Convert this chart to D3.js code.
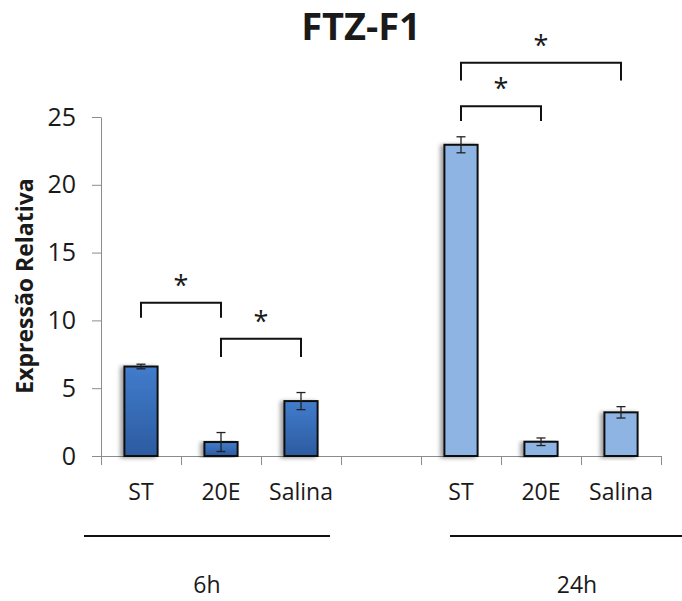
<!DOCTYPE html>
<html>
<head>
<meta charset="utf-8">
<script src="https://cdn.jsdelivr.net/npm/d3@7"></script>
<style>
    body { margin: 0; background: #fff; }
    text { font-family: "Open Sans", sans-serif; fill: #1a1a1a; }
</style>
</head>
<body>
<script>
// FTZ-F1 relative expression, bar chart with error bars

// data
const groups = ["6h", "24h"];
const treatments = ["ST", "20E", "Salina"];
const values6h = [6.6, 1.03, 4.05];
const errors6h = [0.17, 0.7, 0.63];
const values24h = [22.95, 1.05, 3.22];
const errors24h = [0.59, 0.28, 0.42];
const yTicks = [0, 5, 10, 15, 20, 25];

// significance brackets: group, from, to, top value, leg end value
const bracketGroups = ["6h", "6h", "24h", "24h"];
const bracketFrom = ["ST", "20E", "ST", "ST"];
const bracketTo = ["20E", "Salina", "20E", "Salina"];
const bracketTop = [11.3, 8.65, 25.8, 29.0];
const bracketLeg = [10.2, 7.3, 24.7, 27.7];

const svgWidth = 682;
const svgHeight = 601;

const plot = { left: 101, right: 661, top: 117, bottom: 456 };

const svg = d3.select("body")
    .append("svg")
    .attr("width", svgWidth)
    .attr("height", svgHeight);

const defs = svg.append("defs");

const grad = defs.append("linearGradient")
    .attr("id", "darkBlue")
    .attr("x1", 0).attr("y1", 0)
    .attr("x2", 0).attr("y2", 1);
grad.append("stop").attr("offset", "0%").attr("stop-color", "#417ccc");
grad.append("stop").attr("offset", "100%").attr("stop-color", "#2c5ba0");

const shadow = defs.append("filter")
    .attr("id", "shadow")
    .attr("x", "-50%").attr("y", "-10%")
    .attr("width", "200%").attr("height", "120%");
shadow.append("feDropShadow")
    .attr("dx", -3).attr("dy", 1)
    .attr("stdDeviation", 2)
    .attr("flood-color", "#000")
    .attr("flood-opacity", 0.4);

// slots: 3 treatments, an empty slot, 3 treatments
const slots = [];
groups.forEach((g, i) => {
    if (i > 0) slots.push("gap");
    treatments.forEach(t => slots.push(g + "|" + t));
});

const rows = [];
treatments.forEach((t, i) => rows.push({ group: "6h", treat: t, value: values6h[i], err: errors6h[i] }));
treatments.forEach((t, i) => rows.push({ group: "24h", treat: t, value: values24h[i], err: errors24h[i] }));

const x = d3.scaleBand()
    .domain(slots)
    .range([plot.left, plot.right])
    .padding(0);

// tick marks sit between categories
const xEdges = d3.scaleLinear()
    .domain([0, slots.length])
    .range([plot.left, plot.right]);

const y = d3.scaleLinear()
    .domain([0, 25])
    .range([plot.bottom, plot.top]);

const barWidth = x.bandwidth() * 0.415;
const cx = d => x(d.group + "|" + d.treat) + x.bandwidth() / 2;

// axes
const yAxis = svg.append("g")
    .attr("transform", `translate(${plot.left},0)`)
    .call(d3.axisLeft(y).tickValues(yTicks).tickSize(9).tickSizeOuter(0).tickPadding(16));
yAxis.select(".domain").attr("stroke", "#8c8c8c");
yAxis.selectAll(".tick line").attr("stroke", "#8c8c8c");
yAxis.selectAll(".tick text")
    .attr("font-size", 25)
    .attr("font-family", "Open Sans, sans-serif")
    .attr("fill", "#1a1a1a");

const xAxis = svg.append("g")
    .attr("transform", `translate(0,${plot.bottom})`)
    .call(d3.axisBottom(xEdges).tickValues(d3.range(slots.length + 1)).tickSize(9).tickSizeOuter(0).tickFormat(""));
xAxis.select(".domain").attr("stroke", "#8c8c8c");
xAxis.selectAll(".tick line").attr("stroke", "#8c8c8c");

// bars
svg.append("g")
    .selectAll("rect")
    .data(rows)
    .enter()
    .append("rect")
    .attr("x", d => cx(d) - barWidth / 2)
    .attr("y", d => y(d.value))
    .attr("width", barWidth)
    .attr("height", d => y(0) - y(d.value))
    .attr("fill", d => d.group === "6h" ? "url(#darkBlue)" : "#8db4e3")
    .attr("stroke", "#111")
    .attr("stroke-width", 2)
    .attr("filter", "url(#shadow)");

// error bars
const errG = svg.append("g")
    .attr("stroke", "#222")
    .attr("stroke-width", 1.3)
    .selectAll("g")
    .data(rows)
    .enter()
    .append("g");
errG.append("line")
    .attr("x1", cx).attr("x2", cx)
    .attr("y1", d => y(d.value - d.err))
    .attr("y2", d => y(d.value + d.err));
errG.append("line")
    .attr("x1", d => cx(d) - 4.5).attr("x2", d => cx(d) + 4.5)
    .attr("y1", d => y(d.value + d.err))
    .attr("y2", d => y(d.value + d.err));
errG.append("line")
    .attr("x1", d => cx(d) - 4.5).attr("x2", d => cx(d) + 4.5)
    .attr("y1", d => y(d.value - d.err))
    .attr("y2", d => y(d.value - d.err));

// category labels
svg.append("g")
    .selectAll("text")
    .data(rows)
    .enter()
    .append("text")
    .attr("x", cx)
    .attr("y", 500)
    .attr("text-anchor", "middle")
    .attr("font-size", 23)
    .text(d => d.treat);

// significance brackets
const brackets = bracketGroups.map((g, i) => ({
    x1: x(g + "|" + bracketFrom[i]) + x.bandwidth() / 2,
    x2: x(g + "|" + bracketTo[i]) + x.bandwidth() / 2,
    top: bracketTop[i],
    leg: bracketLeg[i]
}));

svg.append("g")
    .selectAll("path")
    .data(brackets)
    .enter()
    .append("path")
    .attr("d", d => `M${d.x1},${y(d.leg)}V${y(d.top)}H${d.x2}V${y(d.leg)}`)
    .attr("fill", "none")
    .attr("stroke", "#111")
    .attr("stroke-width", 2);

svg.append("g")
    .selectAll("text")
    .data(brackets)
    .enter()
    .append("text")
    .attr("x", d => (d.x1 + d.x2) / 2)
    .attr("y", d => y(d.top) - 8)
    .attr("text-anchor", "middle")
    .attr("font-size", 27)
    .text("*");

// group lines under the axis
const groupLineOffsets = { "6h": [-17, -11], "24h": [29, 43] };
const groupSpans = groups.map(g => {
    const first = x(g + "|" + treatments[0]);
    const last = x(g + "|" + treatments[treatments.length - 1]) + x.bandwidth();
    const off = groupLineOffsets[g];
    return { name: g, x1: first + off[0], x2: last + off[1] };
});

svg.append("g")
    .selectAll("line")
    .data(groupSpans)
    .enter()
    .append("line")
    .attr("x1", d => d.x1)
    .attr("x2", d => d.x2)
    .attr("y1", 536)
    .attr("y2", 536)
    .attr("stroke", "#111")
    .attr("stroke-width", 2);

svg.append("g")
    .selectAll("text")
    .data(groupSpans)
    .enter()
    .append("text")
    .attr("x", d => (d.x1 + d.x2) / 2)
    .attr("y", 593)
    .attr("text-anchor", "middle")
    .attr("font-size", 23)
    .text(d => d.name);

// title
svg.append("text")
    .attr("x", 361)
    .attr("y", 40)
    .attr("text-anchor", "middle")
    .attr("font-size", 38)
    .attr("font-weight", "bold")
    .attr("fill", "#111")
    .text("FTZ-F1");

// y axis title
svg.append("text")
    .attr("transform", "rotate(-90)")
    .attr("x", -286)
    .attr("y", 33)
    .attr("text-anchor", "middle")
    .attr("font-size", 23)
    .attr("font-weight", "bold")
    .attr("fill", "#111")
    .text("Expressão Relativa");
</script>
</body>
</html>
